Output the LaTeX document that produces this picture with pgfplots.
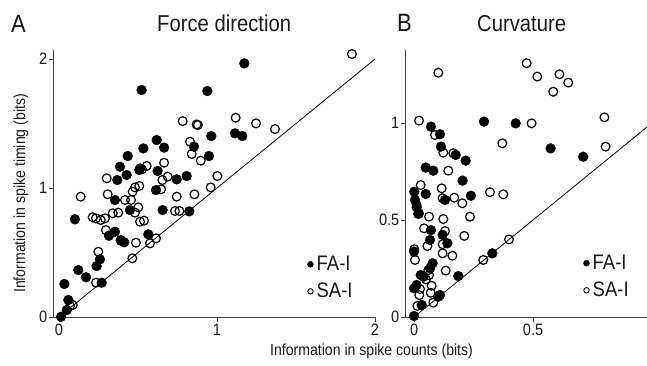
\documentclass[border=0pt]{standalone}
\usepackage{fontspec}
\setmainfont{Liberation Sans}[FakeStretch=0.88]
\usepackage{pgfplots}
\pgfplotsset{compat=1.18}
\newcommand{\tickfont}{\fontsize{16.5}{18}\selectfont}
\newcommand{\labfont}{\fontsize{16}{18}\selectfont}
\newcommand{\titfont}{\fontsize{23}{26}\selectfont}
\newcommand{\letfont}{\fontsize{25}{28}\selectfont}
\newcommand{\legfont}{\fontsize{21}{24}\selectfont}
\pgfplotsset{
  panel/.style={
    scale only axis, height=267pt,
    axis lines=left,
    axis line style={-, line width=0.8pt, black!75},
    tick align=outside, major tick length=4.5pt,
    tick style={line width=0.8pt, black!75},
    /pgf/number format/assume math mode=true,
    ticklabel style={font=\tickfont, text=black!90},
    yticklabel style={inner xsep=1pt},
    xticklabel style={inner ysep=2pt},
    ymin=0, clip=false,
    legend cell align=left,
    legend style={draw=none, fill=none, inner sep=0pt, font=\legfont,
      nodes={inner sep=0pt, text=black!90}, row sep=11pt,
      /tikz/every odd column/.append style={column sep=3pt}},
  },
  fa/.style={only marks, mark=*, mark size=4.9pt, mark options={fill=black, draw=black}},
  sa/.style={only marks, mark=o, mark size=4.4pt, mark options={draw=black, line width=1.2pt}},
}
\begin{document}
\begin{tikzpicture}
\path[use as bounding box] (0pt,0pt) rectangle (647pt,365pt);
% ---------- Panel A ----------
\begin{axis}[panel, at={(53pt,48pt)}, anchor=south west, width=322pt,
  xmin=-0.038, xmax=2.0, ymax=2.07,
  xtick={0,1,2}, ytick={0,1,2},
  legend style={at={(0.789,0.228)}, anchor=north west}]
\addlegendimage{legend image code/.code={\fill[black] (0pt,0pt) circle (3pt);}}
\addlegendentry{FA-I}
\addlegendimage{legend image code/.code={\draw[black, line width=0.9pt] (0pt,0pt) circle (2.7pt);}}
\addlegendentry{SA-I}
\addplot[black, line width=0.8pt, no marks, forget plot] coordinates {(0,0) (2,2)};
\addplot[fa, forget plot] coordinates {
(1.173,1.966) (0.523,1.760) (0.939,1.752) (0.964,1.403) (1.114,1.424)
(1.160,1.403) (0.618,1.372) (0.534,1.307) (0.665,1.313) (0.854,1.320)
(0.435,1.248) (0.949,1.248) (0.386,1.165) (0.428,1.101) (0.508,1.140)
(0.624,1.132) (0.369,1.062) (0.808,1.093) (0.745,1.067) (0.614,0.984)
(0.354,0.907) (0.449,0.829) (0.656,0.829) (0.825,0.819) (0.101,0.757)
(0.354,0.661) (0.316,0.630) (0.392,0.592) (0.413,0.579) (0.565,0.641)
(0.259,0.447) (0.238,0.395) (0.122,0.364) (0.171,0.308) (0.270,0.266)
(0.034,0.256) (0.059,0.132) (0.013,0.002) (0.049,0.054)
};
\addplot[sa, forget plot] coordinates {
(1.854,2.039) (1.367,1.457) (1.118,1.545) (1.247,1.501) (0.783,1.519)
(0.871,1.493) (0.879,1.488) (0.829,1.359) (0.840,1.264) (0.897,1.212)
(1.002,1.093) (0.960,1.005) (0.857,0.951) (0.745,0.933) (0.734,0.822)
(0.762,0.822) (0.665,1.196) (0.654,1.062) (0.688,1.088) (0.646,0.990)
(0.555,1.171) (0.513,1.153) (0.525,1.145) (0.508,1.016) (0.481,1.005)
(0.466,0.972) (0.502,0.850) (0.481,0.809) (0.456,0.907) (0.418,0.907)
(0.302,1.075) (0.308,0.951) (0.137,0.933) (0.213,0.773) (0.234,0.765)
(0.264,0.752) (0.291,0.765) (0.340,0.804) (0.375,0.809) (0.513,0.739)
(0.538,0.747) (0.297,0.674) (0.390,0.597) (0.487,0.576) (0.576,0.571)
(0.614,0.610) (0.464,0.455) (0.249,0.506) (0.234,0.266) (0.087,0.093)
(0.070,0.085)
};
\end{axis}
% ---------- Panel B ----------
\begin{axis}[panel, at={(405pt,48pt)}, anchor=south west, width=242pt,
  xmin=-0.038, xmax=0.979, ymax=1.376,
  xtick={0,0.5}, ytick={0,0.5,1},
  legend style={at={(0.736,0.232)}, anchor=north west}]
\addlegendimage{legend image code/.code={\fill[black] (0pt,0pt) circle (3pt);}}
\addlegendentry{FA-I}
\addlegendimage{legend image code/.code={\draw[black, line width=0.9pt] (0pt,0pt) circle (2.7pt);}}
\addlegendentry{SA-I}
\addplot[black, line width=0.8pt, no marks, forget plot] coordinates {(0,0) (0.979,0.979)};
\addplot[fa, forget plot] coordinates {
(0.294,1.007) (0.427,0.998) (0.574,0.869) (0.711,0.826) (0.071,0.981)
(0.109,0.942) (0.113,0.878) (0.175,0.835) (0.217,0.806) (0.049,0.770)
(0.081,0.754) (0.204,0.703) (0.239,0.625) (0.130,0.603) (0.001,0.646)
(0.004,0.603) (0.049,0.634) (0.011,0.565) (0.018,0.531) (0.071,0.448)
(0.067,0.397) (0.120,0.423) (0.140,0.380) (0.000,0.337) (0.078,0.277)
(0.067,0.251) (0.028,0.216) (0.186,0.211) (0.000,0.148) (0.329,0.328)
(0.109,0.113) (0.102,0.105) (0.032,0.062) (0.000,0.005) (0.011,0.165)
(0.040,0.208)
};
\addplot[sa, forget plot] coordinates {
(0.473,1.308) (0.518,1.239) (0.611,1.251) (0.648,1.208) (0.585,1.161)
(0.102,1.259) (0.800,1.029) (0.805,0.878) (0.494,0.998) (0.371,0.895)
(0.319,0.643) (0.375,0.632) (0.399,0.400) (0.291,0.294) (0.021,1.012)
(0.088,0.938) (0.123,0.847) (0.165,0.844) (0.144,0.754) (0.028,0.680)
(0.116,0.663) (0.120,0.612) (0.169,0.615) (0.203,0.586) (0.235,0.517)
(0.063,0.517) (0.123,0.505) (0.011,0.577) (0.021,0.534) (0.042,0.457)
(0.056,0.366) (0.130,0.443) (0.120,0.375) (0.211,0.418) (0.161,0.316)
(0.120,0.328) (0.133,0.239) (0.004,0.294) (0.001,0.349) (0.074,0.161)
(0.070,0.125) (0.025,0.144) (0.014,0.057) (0.022,0.113) (0.063,0.216)
(0.050,0.194) (0.081,0.074) (0.060,0.242)
};
\end{axis}
% ---------- titles and labels ----------
\node[anchor=base west, inner sep=0pt, font=\letfont, text=black!90] at (11pt,332pt) {A};
\node[anchor=base west, inner sep=0pt, font=\titfont, text=black!90] at (157pt,333pt) {Force direction};
\node[anchor=base west, inner sep=0pt, font=\letfont, text=black!90] at (397pt,333pt) {B};
\node[anchor=base west, inner sep=0pt, font=\titfont, text=black!90] at (477pt,333pt) {Curvature};
\node[anchor=base west, inner sep=0pt, font=\labfont, text=black!90] at (270pt,10pt) {Information in spike counts (bits)};
\node[anchor=base west, inner sep=0pt, rotate=90, font=\labfont, text=black!90] at (25pt,72pt) {Information in spike timing (bits)};
\end{tikzpicture}
\end{document}
